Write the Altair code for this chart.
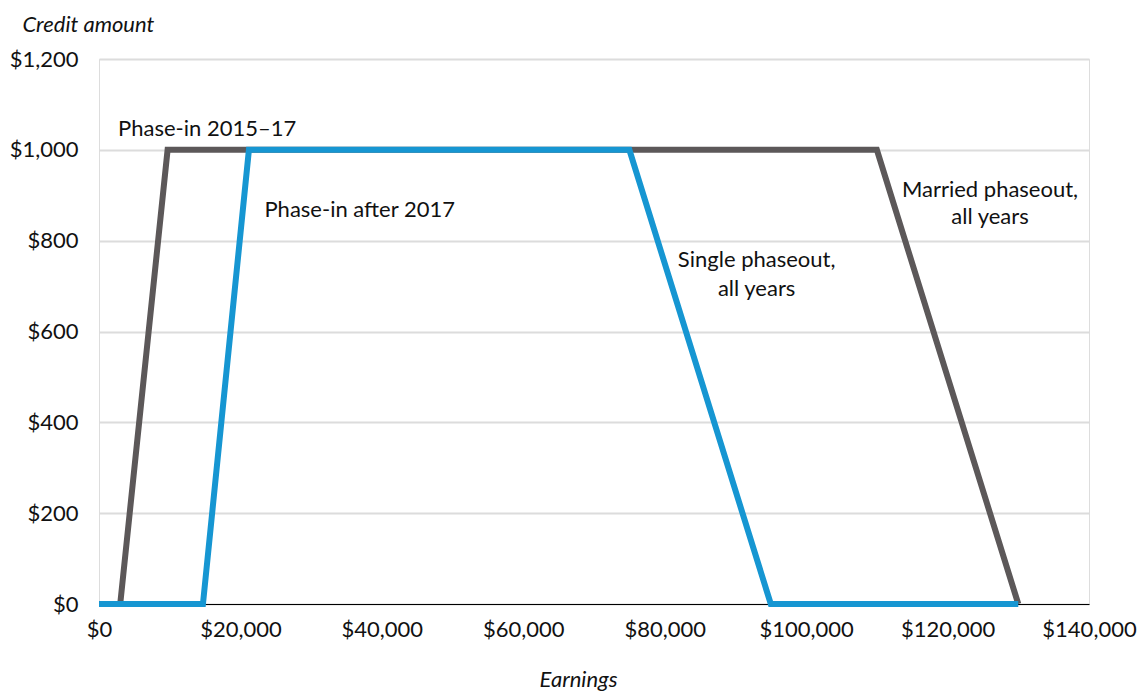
import altair as alt
import pandas as pd

# Credit schedule: earnings breakpoints and credit amounts
married_earnings = [0, 3000, 9700, 110000, 130000]
married_credit = [0, 0, 1000, 1000, 0]
single_earnings = [0, 14700, 21200, 75000, 95000, 130000]
single_credit = [0, 0, 1000, 1000, 0, 0]

# Annotation lines (text, x anchor, y anchor, alignment)
label_text = ["Phase-in 2015\u201317", "Phase-in after 2017",
              "Single phaseout,", "all years",
              "Married phaseout,", "all years"]
label_x = [2700, 23400, 93000, 93000, 126000, 126000]
label_y = [1046, 867, 757, 694, 911, 852]
label_align = ["left", "left", "center", "center", "center", "center"]

x_ticks = [0, 20000, 40000, 60000, 80000, 100000, 120000, 140000]
y_ticks = [0, 200, 400, 600, 800, 1000, 1200]

FONT = "Lato"
GREY = "#5c5859"
BLUE = "#1696d2"
INK = "#111111"

married = pd.DataFrame({"earnings": married_earnings, "credit": married_credit,
                        "order": range(len(married_earnings))})
single = pd.DataFrame({"earnings": single_earnings, "credit": single_credit,
                       "order": range(len(single_earnings))})
labels = pd.DataFrame({"text": label_text, "x": label_x, "y": label_y,
                       "align": label_align})

x_scale = alt.Scale(domain=[0, 140000], nice=False, zero=True)
y_scale = alt.Scale(domain=[0, 1200], nice=False)

x_axis = alt.Axis(
    values=x_ticks, format="$,.0f", title="Earnings",
    titleFont=FONT, titleFontStyle="italic", titleFontWeight="normal",
    titleFontSize=22, titleColor=INK, titleX=479, titleAlign="center",
    titleY=82, titleBaseline="alphabetic",
    labelFont=FONT, labelFontSize=22, labelColor=INK, labelPadding=15,
    ticks=False, grid=False, domainColor="#000", domainWidth=1.2,
    labelOverlap=False, labelFlush=False,
)
y_axis = alt.Axis(
    values=y_ticks, format="$,.0f", title="Credit amount",
    titleFont=FONT, titleFontStyle="italic", titleFontWeight="normal",
    titleFontSize=22, titleColor=INK, titleAngle=0, titleAlign="left",
    titleX=-77, titleY=-28, titleBaseline="alphabetic",
    labelFont=FONT, labelFontSize=22, labelColor=INK, labelPadding=21,
    ticks=False, domain=False, grid=True, gridColor="#dcdcdc", gridWidth=2,
)

base_x = alt.X("earnings:Q", scale=x_scale, axis=x_axis)
base_y = alt.Y("credit:Q", scale=y_scale, axis=y_axis)

married_line = alt.Chart(married).mark_line(
    color=GREY, strokeWidth=6, strokeJoin="miter", strokeCap="butt"
).encode(x=base_x, y=base_y, order="order:Q")

single_line = alt.Chart(single).mark_line(
    color=BLUE, strokeWidth=6, strokeJoin="miter", strokeCap="butt"
).encode(x=alt.X("earnings:Q", scale=x_scale), y=alt.Y("credit:Q", scale=y_scale),
         order="order:Q")

text_left = alt.Chart(labels[labels["align"] == "left"]).mark_text(
    font=FONT, fontSize=22, color=INK, align="left", baseline="middle"
).encode(x=alt.X("x:Q", scale=x_scale), y=alt.Y("y:Q", scale=y_scale), text="text:N")

text_center = alt.Chart(labels[labels["align"] == "center"]).mark_text(
    font=FONT, fontSize=22, color=INK, align="center", baseline="middle"
).encode(x=alt.X("x:Q", scale=x_scale), y=alt.Y("y:Q", scale=y_scale), text="text:N")

chart = alt.layer(married_line, single_line, text_left, text_center).properties(
    width=990, height=545,
    autosize=alt.AutoSizeParams(type="none"),
    padding={"left": 99, "top": 59, "right": 50, "bottom": 89},
).configure_view(stroke=None).configure(background="white")

chart.save("out.html", embed_options={"renderer": "svg", "actions": False})
